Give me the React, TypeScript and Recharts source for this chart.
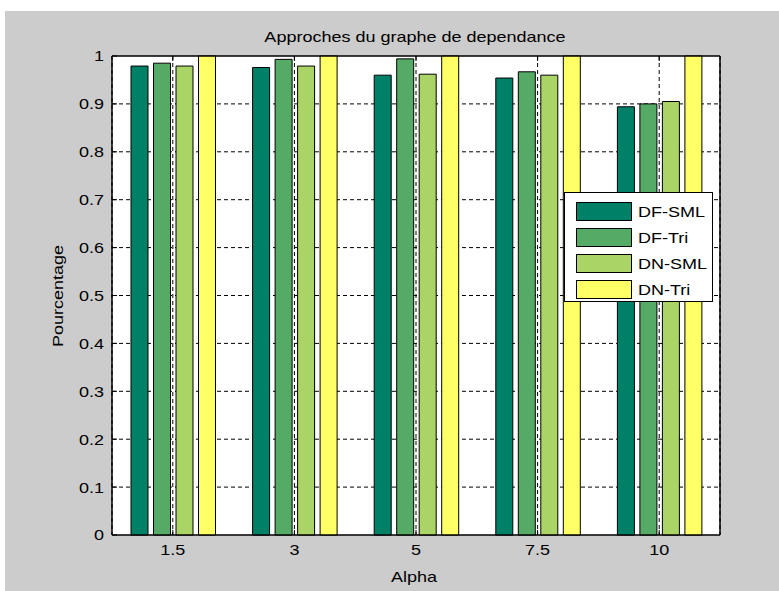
import React from "react";
import {
  BarChart,
  Bar,
  XAxis,
  YAxis,
  CartesianGrid,
  Legend,
  ReferenceArea,
} from "recharts";

// Alpha values along the x axis
const alphaValues: string[] = ["1.5", "3", "5", "7.5", "10"];

// Percentage for each dependency-graph approach
const dfSml: number[] = [0.979, 0.976, 0.960, 0.954, 0.894];
const dfTri: number[] = [0.985, 0.993, 0.994, 0.967, 0.900];
const dnSml: number[] = [0.979, 0.979, 0.962, 0.960, 0.905];
const dnTri: number[] = [1, 1, 1, 1, 1];

const yTicks: number[] = [0, 0.1, 0.2, 0.3, 0.4, 0.5, 0.6, 0.7, 0.8, 0.9, 1];
const innerYTicks: number[] = yTicks.filter((t) => t > 0 && t < 1);

const seriesNames: string[] = ["DF-SML", "DF-Tri", "DN-SML", "DN-Tri"];
const seriesColors: string[] = ["#008066", "#55aa66", "#aad466", "#ffff66"];
const seriesKeys: string[] = ["dfSml", "dfTri", "dnSml", "dnTri"];

const data = alphaValues.map((alpha, i) => ({
  alpha,
  dfSml: dfSml[i],
  dfTri: dfTri[i],
  dnSml: dnSml[i],
  dnTri: dnTri[i],
}));

const FONT = "'Liberation Sans', Arial, Helvetica, sans-serif";
const FONT_SIZE = 15;
const STRETCH = 1.2; // wide text rendering
const TICK_LEN = 5;

const fmt = (v: number) => (v === 0 || v === 1 ? String(v) : v.toFixed(1));

const WideText = ({
  x,
  y,
  dy,
  anchor,
  children,
}: {
  x: number;
  y: number;
  dy: number | string;
  anchor: "start" | "middle" | "end";
  children: React.ReactNode;
}) => (
  <text
    transform={`translate(${x},${y}) scale(${STRETCH},1)`}
    x={0}
    y={0}
    dy={dy}
    textAnchor={anchor}
    fontFamily={FONT}
    fontSize={FONT_SIZE}
    fill="#000"
  >
    {children}
  </text>
);

// Left y axis: label plus an inward tick mark
const LeftTick = (props: any) => {
  const { x, y, payload } = props;
  const axisX = x + 8;
  return (
    <g>
      <line x1={axisX} x2={axisX + TICK_LEN} y1={y} y2={y} stroke="#000" />
      <WideText x={x} y={y} dy="0.36em" anchor="end">
        {fmt(payload.value)}
      </WideText>
    </g>
  );
};

// Right y axis: inward tick mark only
const RightTick = (props: any) => {
  const { x, y } = props;
  return <line x1={x - TICK_LEN} x2={x} y1={y} y2={y} stroke="#000" />;
};

// Bottom x axis: label plus an inward tick mark
const BottomTick = (props: any) => {
  const { x, y, payload } = props;
  return (
    <g>
      <line x1={x} x2={x} y1={y - TICK_LEN} y2={y} stroke="#000" />
      <WideText x={x} y={y} dy={20} anchor="middle">
        {payload.value}
      </WideText>
    </g>
  );
};

// Top x axis: inward tick mark only
const TopTick = (props: any) => {
  const { x, y } = props;
  return <line x1={x} x2={x} y1={y} y2={y + TICK_LEN} stroke="#000" />;
};

const wideStyle: React.CSSProperties = {
  fontFamily: FONT,
  fontSize: FONT_SIZE,
  color: "#000",
  whiteSpace: "nowrap",
};

const LegendBox = () => (
  <div
    style={{
      background: "#fff",
      border: "1px solid #000",
      width: 149,
      height: 110,
      boxSizing: "border-box",
      padding: "5px 0 0 11px",
      ...wideStyle,
    }}
  >
    {seriesNames.map((name, i) => (
      <div
        key={name}
        style={{ display: "flex", alignItems: "center", height: 26 }}
      >
        <div
          style={{
            width: 56,
            height: 19,
            boxSizing: "border-box",
            background: seriesColors[i],
            border: "1px solid #000",
            marginRight: 6,
            flexShrink: 0,
          }}
        />
        <span
          style={{
            display: "inline-block",
            transform: `scaleX(${STRETCH})`,
            transformOrigin: "left center",
          }}
        >
          {name}
        </span>
      </div>
    ))}
  </div>
);

export default function App() {
  return (
    <div
      style={{
        position: "absolute",
        left: 0,
        top: 0,
        width: 779,
        height: 591,
        background: "#fff",
        overflow: "hidden",
      }}
    >
      <div
        style={{
          position: "absolute",
          left: 5,
          top: 11,
          right: 0,
          bottom: 0,
          background: "#cccccc",
        }}
      />
      <div
        style={{
          position: "absolute",
          left: 415,
          top: 36,
          transform: `translate(-50%, -50%) scaleX(${STRETCH})`,
          ...wideStyle,
        }}
      >
        Approches du graphe de dependance
      </div>
      <div
        style={{
          position: "absolute",
          left: 414,
          top: 576,
          transform: `translate(-50%, -50%) scaleX(${STRETCH})`,
          ...wideStyle,
        }}
      >
        Alpha
      </div>
      <div
        style={{
          position: "absolute",
          left: 57,
          top: 296,
          transform: `translate(-50%, -50%) rotate(-90deg) scaleX(${STRETCH})`,
          ...wideStyle,
        }}
      >
        Pourcentage
      </div>
      <div style={{ position: "absolute", left: 0, top: 0 }}>
        <BarChart
          width={779}
          height={591}
          data={data}
          margin={{ top: 55, right: 58, bottom: 26, left: 62 }}
          barSize={17}
          barGap={5.5}
        >
          <CartesianGrid
            stroke="#000"
            strokeDasharray="4 3"
            fill="#fff"
            fillOpacity={1}
            horizontalValues={innerYTicks}
          />
          <XAxis
            dataKey="alpha"
            height={30}
            axisLine={{ stroke: "#000" }}
            tickLine={false}
            tickSize={0}
            tickMargin={0}
            tick={BottomTick}
            interval={0}
          />
          <XAxis
            xAxisId="t"
            dataKey="alpha"
            orientation="top"
            height={1}
            axisLine={{ stroke: "#000" }}
            tickLine={false}
            tickSize={0}
            tickMargin={0}
            tick={TopTick}
            interval={0}
          />
          <YAxis
            width={50}
            domain={[0, 1]}
            ticks={yTicks}
            axisLine={{ stroke: "#000" }}
            tickLine={false}
            tickSize={0}
            tickMargin={8}
            tick={LeftTick}
            interval={0}
          />
          <YAxis
            yAxisId="r"
            orientation="right"
            width={1}
            domain={[0, 1]}
            ticks={yTicks}
            axisLine={{ stroke: "#000" }}
            tickLine={false}
            tickSize={0}
            tickMargin={0}
            tick={RightTick}
            interval={0}
          />
          {seriesKeys.map((k, i) => (
            <Bar
              key={k}
              dataKey={k}
              name={seriesNames[i]}
              fill={seriesColors[i]}
              stroke="#000"
              strokeWidth={1}
              isAnimationActive={false}
            />
          ))}
          {/* axes box */}
          <ReferenceArea
            y1={0}
            y2={1}
            fill="none"
            stroke="#000"
            strokeWidth={1}
            ifOverflow="visible"
          />
          <Legend
            layout="vertical"
            align="center"
            verticalAlign="middle"
            content={<LegendBox />}
            wrapperStyle={{ position: "absolute", left: 564, top: 192, width: 149 }}
          />
        </BarChart>
      </div>
    </div>
  );
}
